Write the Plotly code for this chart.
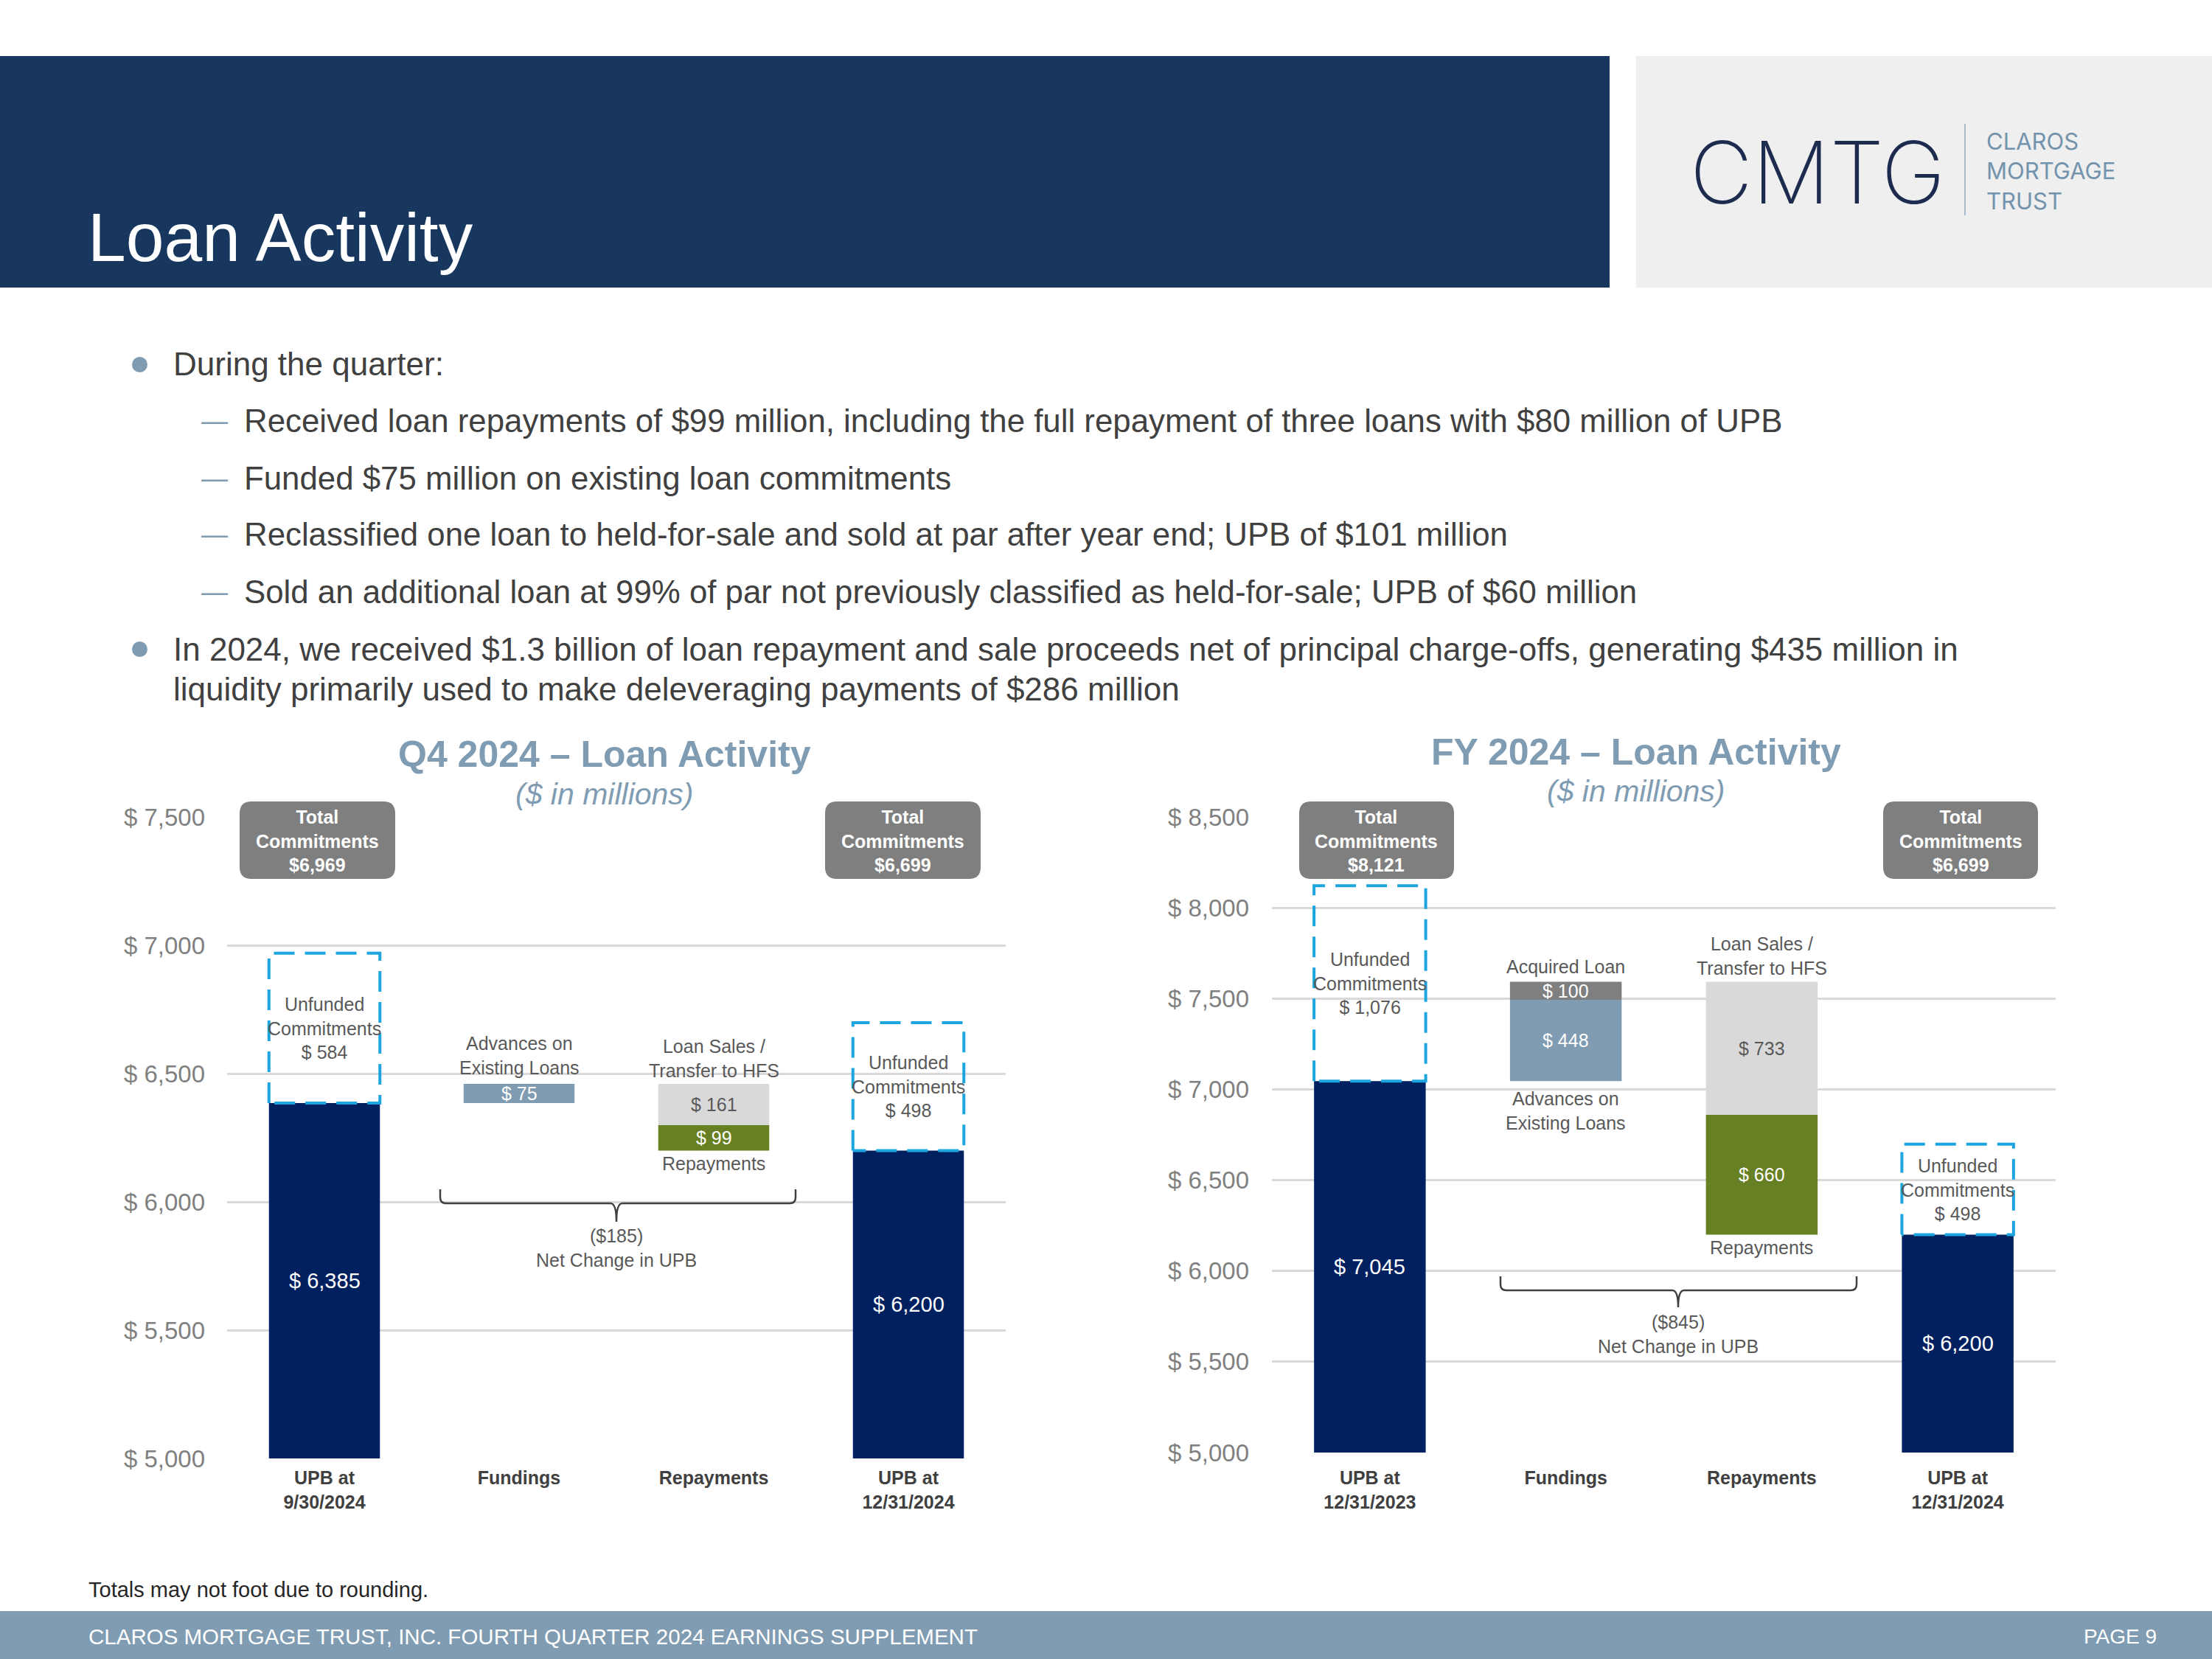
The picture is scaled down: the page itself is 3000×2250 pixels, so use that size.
import plotly.graph_objects as go

W, H = 3000, 2250
def px(x): return x / W
def py(y): return 1 - y / H

# ---------------- DATA ----------------
q4_categories = ["UPB at<br>9/30/2024", "Fundings", "Repayments", "UPB at<br>12/31/2024"]
q4_upb = [6385, 6200]            # start / end UPB
q4_unfunded = [584, 498]         # unfunded commitments start / end
q4_total_commitments = [6969, 6699]
q4_advances = 75
q4_acquired = 0
q4_loan_sales = 161
q4_repayments = 99
q4_net_change = -185
q4_yticks = [5000, 5500, 6000, 6500, 7000, 7500]

fy_categories = ["UPB at<br>12/31/2023", "Fundings", "Repayments", "UPB at<br>12/31/2024"]
fy_upb = [7045, 6200]
fy_unfunded = [1076, 498]
fy_total_commitments = [8121, 6699]
fy_advances = 448
fy_acquired = 100
fy_loan_sales = 733
fy_repayments = 660
fy_net_change = -845
fy_yticks = [5000, 5500, 6000, 6500, 7000, 7500, 8000, 8500]

bullets = [
    "During the quarter:",
    "Received loan repayments of $99 million, including the full repayment of three loans with $80 million of UPB",
    "Funded $75 million on existing loan commitments",
    "Reclassified one loan to held-for-sale and sold at par after year end; UPB of $101 million",
    "Sold an additional loan at 99% of par not previously classified as held-for-sale; UPB of $60 million",
    "In 2024, we received $1.3 billion of loan repayment and sale proceeds net of principal charge-offs, generating $435 million in",
    "liquidity primarily used to make deleveraging payments of $286 million",
]

# ---------------- STYLE ----------------
FONT = "Liberation Sans, Arial, sans-serif"
NAVY = "#002060"
HEADER = "#17375E"
STEEL = "#7F9CB2"
GRAYBOX = "#7F7F7F"
LIGHT = "#D9D9D9"
GREEN = "#688024"
DASH = "#1CA5DF"
LABEL = "#595959"
DARK = "#404040"
BW = 0.57

fig = go.Figure()
shapes = []
ann = []

def A(text, x, y, size, color, xref="paper", yref="paper", xanchor="center", yanchor="middle",
      bold=False, italic=False, yshift=0, family=FONT, weight=None, align="center"):
    if bold:
        text = f"<b>{text}</b>"
    if italic:
        text = f"<i>{text}</i>"
    f = dict(family=family, size=size, color=color)
    if weight is not None:
        f["weight"] = weight
    ann.append(dict(text=text, x=x, y=y, xref=xref, yref=yref, xanchor=xanchor,
                    yanchor=yanchor, showarrow=False, font=f, yshift=yshift, align=align))

def rrect(x0, y0, x1, y1, r):
    return (f"M {px(x0+r)},{py(y0)} L {px(x1-r)},{py(y0)} Q {px(x1)},{py(y0)} {px(x1)},{py(y0+r)} "
            f"L {px(x1)},{py(y1-r)} Q {px(x1)},{py(y1)} {px(x1-r)},{py(y1)} "
            f"L {px(x0+r)},{py(y1)} Q {px(x0)},{py(y1)} {px(x0)},{py(y1-r)} "
            f"L {px(x0)},{py(y0+r)} Q {px(x0)},{py(y0)} {px(x0+r)},{py(y0)} Z")

def brace(x0, x1, xc, ytop, yh, ytip):
    r = 8
    return (f"M {px(x0)},{py(ytop)} L {px(x0)},{py(yh-r)} Q {px(x0)},{py(yh)} {px(x0+r)},{py(yh)} "
            f"L {px(xc-r)},{py(yh)} Q {px(xc)},{py(yh)} {px(xc)},{py(ytip)} "
            f"Q {px(xc)},{py(yh)} {px(xc+r)},{py(yh)} L {px(x1-r)},{py(yh)} "
            f"Q {px(x1)},{py(yh)} {px(x1)},{py(yh-r)} L {px(x1)},{py(ytop)}")

def money(v):
    return f"$ {v:,}"

def add_chart(xa, ya, ymin, upb, unfunded, totals, adv, acq, sales, rep, net,
              adv_below, brace_geo, box_geo):
    xr = xa.replace("axis", "")
    yr = ya.replace("axis", "")
    peak = upb[0] + adv + acq
    # UPB bars
    fig.add_trace(go.Bar(x=[0, 3], y=upb, width=BW, marker=dict(color=NAVY, line=dict(width=0)),
                         xaxis=xr, yaxis=yr))
    # fundings
    fig.add_trace(go.Bar(x=[1], y=[adv], base=[upb[0]], width=BW,
                         marker=dict(color=STEEL, line=dict(width=0)), xaxis=xr, yaxis=yr))
    if acq:
        fig.add_trace(go.Bar(x=[1], y=[acq], base=[upb[0] + adv], width=BW,
                             marker=dict(color=GRAYBOX, line=dict(width=0)), xaxis=xr, yaxis=yr))
    # repayments
    fig.add_trace(go.Bar(x=[2], y=[sales], base=[peak - sales], width=BW,
                         marker=dict(color=LIGHT, line=dict(width=0)), xaxis=xr, yaxis=yr))
    fig.add_trace(go.Bar(x=[2], y=[rep], base=[peak - sales - rep], width=BW,
                         marker=dict(color=GREEN, line=dict(width=0)), xaxis=xr, yaxis=yr))
    # dashed unfunded boxes
    for xi, u, f in zip([0, 3], upb, unfunded):
        h = BW / 2
        fig.add_trace(go.Scatter(x=[xi - h, xi - h, xi + h, xi + h, xi - h],
                                 y=[u, u + f, u + f, u, u], mode="lines",
                                 line=dict(color=DASH, width=4, dash="28px,14px"),
                                 xaxis=xr, yaxis=yr, hoverinfo="skip"))
        A(f"Unfunded<br>Commitments<br>{money(f)}", xi, u + f / 2, 25, LABEL, xref=xr, yref=yr)
        A(money(u), xi, (ymin + u) / 2, 29, "white", xref=xr, yref=yr)
    # segment labels
    A(money(adv), 1, upb[0] + adv / 2, 25, "white", xref=xr, yref=yr)
    if acq:
        A(money(acq), 1, upb[0] + adv + acq / 2, 25, "white", xref=xr, yref=yr)
        A("Acquired Loan", 1, peak, 25, LABEL, xref=xr, yref=yr, yanchor="bottom", yshift=4)
    if adv_below:
        A("Advances on<br>Existing Loans", 1, upb[0], 25, LABEL, xref=xr, yref=yr, yanchor="top", yshift=-8)
    else:
        A("Advances on<br>Existing Loans", 1, peak, 25, LABEL, xref=xr, yref=yr, yanchor="bottom", yshift=6)
    A(money(sales), 2, peak - sales / 2, 25, LABEL, xref=xr, yref=yr)
    A(money(rep), 2, peak - sales - rep / 2, 25, "white", xref=xr, yref=yr)
    A("Loan Sales /<br>Transfer to HFS", 2, peak, 25, LABEL, xref=xr, yref=yr, yanchor="bottom", yshift=2)
    A("Repayments", 2, peak - sales - rep, 25, LABEL, xref=xr, yref=yr, yanchor="top", yshift=-2)
    # brace
    bx0, bx1, bxc, bt, bh, btip, ty1 = brace_geo
    shapes.append(dict(type="path", xref="paper", yref="paper", path=brace(bx0, bx1, bxc, bt, bh, btip),
                       line=dict(color="#404040", width=2.5)))
    A(f"(${abs(net)})<br>Net Change in UPB", px(bxc), py(ty1), 25, LABEL, yanchor="top")
    # total commitments boxes
    for (x0, x1), t in zip(box_geo, totals):
        shapes.append(dict(type="path", xref="paper", yref="paper", path=rrect(x0, 1087, x1, 1192, 16),
                           fillcolor=GRAYBOX, line=dict(width=0), layer="above"))
        A(f"Total<br>Commitments<br>${t:,}", px((x0 + x1) / 2), py(1140), 25, "white", bold=True)

add_chart("xaxis", "yaxis", q4_yticks[0], q4_upb, q4_unfunded, q4_total_commitments,
          q4_advances, q4_acquired, q4_loan_sales, q4_repayments, q4_net_change,
          False, (597, 1079, 836, 1613, 1632, 1657, 1660), [(325, 536), (1119, 1330)])
add_chart("xaxis2", "yaxis2", fy_yticks[0], fy_upb, fy_unfunded, fy_total_commitments,
          fy_advances, fy_acquired, fy_loan_sales, fy_repayments, fy_net_change,
          True, (2035, 2518, 2276, 1731, 1750, 1773, 1777), [(1762, 1972), (2554, 2764)])

# chart titles
A("Q4 2024 – Loan Activity", px(820), py(1023), 50, STEEL, bold=True)
A("($ in millions)", px(820), py(1077), 41, STEEL, italic=True)
A("FY 2024 – Loan Activity", px(2219), py(1020), 50, STEEL, bold=True)
A("($ in millions)", px(2219), py(1073), 41, STEEL, italic=True)

# header
shapes.append(dict(type="rect", xref="paper", yref="paper", x0=0, x1=px(2183), y0=py(390), y1=py(76),
                   fillcolor=HEADER, line=dict(width=0), layer="below"))
shapes.append(dict(type="rect", xref="paper", yref="paper", x0=px(2219), x1=1, y0=py(390), y1=py(76),
                   fillcolor="#EFEFEF", line=dict(width=0), layer="below"))
A("Loan Activity", px(117), py(322), 93, "white", xanchor="left")
A("CMTG", px(2290), py(234), 117, "#1D2B4F", xanchor="left", family="Inter, Liberation Sans", weight=200)
shapes.append(dict(type="line", xref="paper", yref="paper", x0=px(2665), x1=px(2665), y0=py(292), y1=py(168),
                   line=dict(color="#A8BACA", width=2)))
A("CLAROS<br>MORTGAGE<br>TRUST", px(2692), py(232), 31, "#7393AD", xanchor="left",
  family="Inter, Liberation Sans", align="left")

# bullets
bullet_y = [494, 570, 648, 725, 803, 880, 934]
bullet_level = [0, 1, 1, 1, 1, 0, 2]
for t, y, lvl in zip(bullets, bullet_y, bullet_level):
    if lvl == 0:
        shapes.append(dict(type="circle", xref="paper", yref="paper", x0=px(179), x1=px(200),
                           y0=py(y + 11), y1=py(y - 10), fillcolor=STEEL, line=dict(width=0)))
        A(t, px(233), py(y), 44, DARK, xanchor="left")
    elif lvl == 1:
        A("—", px(291), py(y), 36, STEEL)
        A(t, px(329), py(y), 43.8, DARK, xanchor="left")
    else:
        A(t, px(233), py(y), 44, DARK, xanchor="left")

# footer
A("Totals may not foot due to rounding.", px(118), py(2156), 29, "#262626", xanchor="left")
shapes.append(dict(type="rect", xref="paper", yref="paper", x0=0, x1=1, y0=0, y1=py(2185),
                   fillcolor=STEEL, line=dict(width=0), layer="below"))
A("CLAROS MORTGAGE TRUST, INC. FOURTH QUARTER 2024 EARNINGS SUPPLEMENT", px(118), py(2219), 29.5, "white",
  xanchor="left")
A("PAGE 9", px(2927), py(2219), 28, "white", xanchor="right")

# axes
def xaxis(domain, anchor, cats, standoff):
    return dict(domain=domain, anchor=anchor, range=[-0.5, 3.5], tickmode="array",
                tickvals=[0, 1, 2, 3], ticktext=[f"<b>{c}</b>" for c in cats],
                tickfont=dict(family=FONT, size=25, color=DARK), showgrid=False, zeroline=False,
                showline=False, ticks="", fixedrange=True, automargin=False, ticklabelstandoff=standoff)

def yaxis(domain, anchor, ticks, standoff):
    return dict(domain=domain, anchor=anchor, range=[ticks[0], ticks[-1]], tickmode="array",
                tickvals=ticks, ticktext=[money(v) for v in ticks], showgrid=True, gridcolor="#D9D9D9",
                gridwidth=3, zeroline=False, showline=False, ticks="",
                tickfont=dict(family=FONT, size=33, color="#808080"), ticklabelstandoff=standoff,
                fixedrange=True, automargin=False)

fig.update_layout(
    width=W, height=H, margin=dict(l=0, r=0, t=0, b=0, pad=0, autoexpand=False),
    paper_bgcolor="white", plot_bgcolor="rgba(0,0,0,0)", showlegend=False, barmode="overlay",
    xaxis=xaxis([px(308), px(1364)], "y", q4_categories, 9),
    yaxis=yaxis([py(1978), py(1108)], "x", q4_yticks, 29),
    xaxis2=xaxis([px(1725), px(2788)], "y2", fy_categories, 17),
    yaxis2=yaxis([py(1970), py(1108)], "x2", fy_yticks, 30),
    shapes=shapes, annotations=ann, hovermode=False,
    font=dict(family=FONT),
)

fig.write_html("out.html")
